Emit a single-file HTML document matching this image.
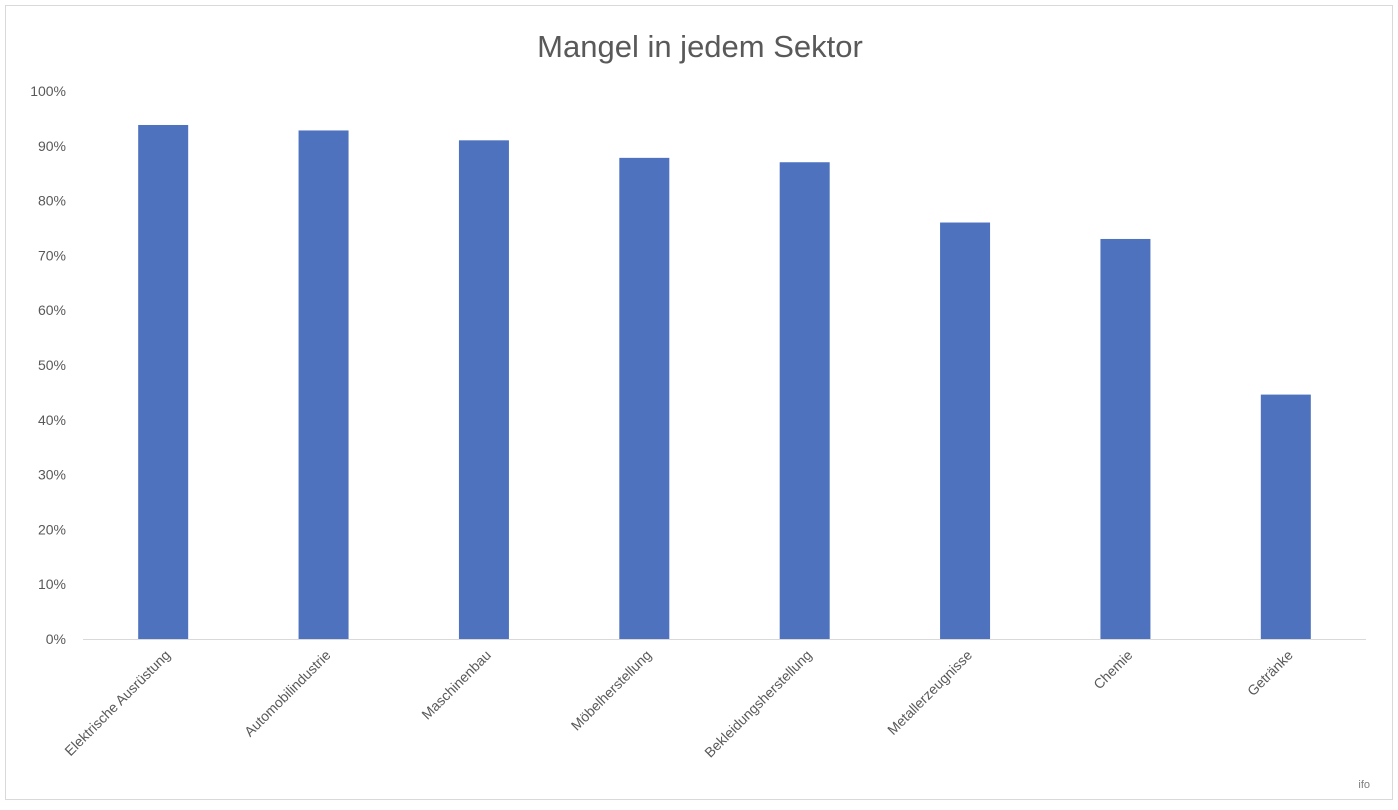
<!DOCTYPE html>
<html><head><meta charset="utf-8"><style>
html,body{margin:0;padding:0;background:#fff;}
svg{display:block;font-family:"Liberation Sans",sans-serif;}
</style></head><body>
<svg width="1398" height="810">
<rect x="5.5" y="5.5" width="1387" height="794" fill="#fff" stroke="#d9d9d9"/>
<text x="700" y="57" text-anchor="middle" font-size="31" fill="#595959">Mangel in jedem Sektor</text>
<g id="yaxis"></g>
<g id="bars"></g>
<g id="xlabels"></g>
<line x1="83" y1="639.5" x2="1366" y2="639.5" stroke="#d9d9d9"/>
<text x="1370" y="788" text-anchor="end" font-size="11" fill="#7f7f7f">ifo</text>
</svg>
<script>
const categories=["Elektrische Ausrüstung","Automobilindustrie","Maschinenbau","Möbelherstellung","Bekleidungsherstellung","Metallerzeugnisse","Chemie","Getränke"];
const values=[93.8,92.8,91,87.8,87,76,73,44.6];
const yTicks=[0,10,20,30,40,50,60,70,80,90,100];
const ns="http://www.w3.org/2000/svg";
const left=83,right=1366,y0=639,y100=91;
function y(v){return y0-(y0-y100)*v/100;}
const band=(right-left)/categories.length;
function xc(i){return left+band*(i+0.5);}
const ya=document.getElementById('yaxis');
yTicks.forEach(t=>{
 const e=document.createElementNS(ns,'text');
 
 
 e.setAttribute('x',66);e.setAttribute('y',y(t)+5);
 e.setAttribute('text-anchor','end');e.setAttribute('font-size','14');e.setAttribute('fill','#595959');
 e.textContent=t+'%';ya.appendChild(e);
});
const bg=document.getElementById('bars'),xl=document.getElementById('xlabels');
categories.forEach((c,i)=>{
 const r=document.createElementNS(ns,'rect');
 
 
 r.setAttribute('x',xc(i)-25);r.setAttribute('width',50);
 r.setAttribute('y',y(values[i]));r.setAttribute('height',y0-y(values[i]));
 r.setAttribute('fill','#4e72be');bg.appendChild(r);
 const t=document.createElementNS(ns,'text');
 
 
 const tx=xc(i)+8,ty=656;
 t.setAttribute('x',tx);t.setAttribute('y',ty);
 t.setAttribute('text-anchor','end');t.setAttribute('font-size','14');t.setAttribute('fill','#595959');
 t.setAttribute('transform','rotate(-45 '+tx+' '+ty+')');
 t.textContent=c;xl.appendChild(t);
});
</script>
</body></html>
